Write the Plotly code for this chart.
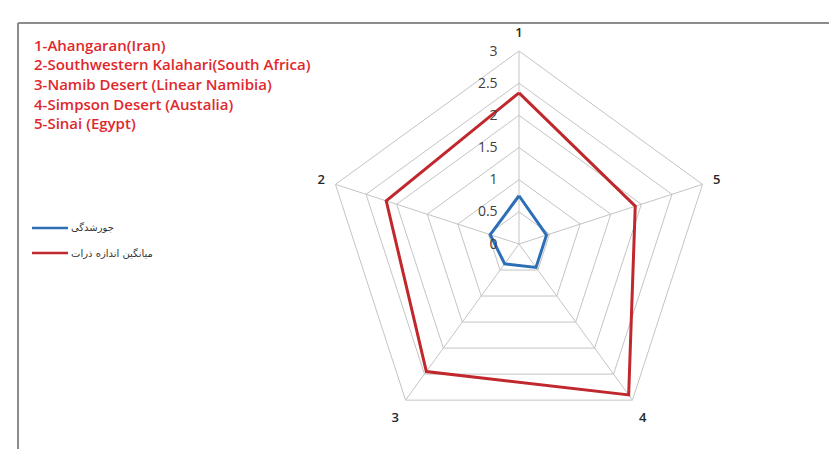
import plotly.graph_objects as go

# ---- data ----
categories = ["1", "2", "3", "4", "5"]
sorting_values = [0.75, 0.47, 0.38, 0.45, 0.45]        # جورشدگی (blue)
grain_size_values = [2.35, 2.17, 2.45, 2.9, 1.9]         # میانگین اندازه ذرات (red)
series_names = ["جورشدگی", "میانگین اندازه ذرات"]
radial_ticks = [0, 0.5, 1, 1.5, 2, 2.5, 3]
site_labels = [
    "1-Ahangaran(Iran)",
    "2-Southwestern Kalahari(South Africa)",
    "3-Namib Desert (Linear Namibia)",
    "4-Simpson Desert (Austalia)",
    "5-Sinai (Egypt)",
]

BLUE = "#2c6fb7"
RED = "#c0282e"
W, H = 837, 449

fig = go.Figure()
fig.add_trace(go.Scatterpolar(
    r=sorting_values + sorting_values[:1],
    theta=categories + categories[:1],
    mode="lines", line=dict(color=BLUE, width=3),
    name=series_names[0], showlegend=False,
))
fig.add_trace(go.Scatterpolar(
    r=grain_size_values + grain_size_values[:1],
    theta=categories + categories[:1],
    mode="lines", line=dict(color=RED, width=3),
    name=series_names[1], showlegend=False,
))

# polar placement (pixel based)
cx, cy, R = 511, 236, 193
fig.update_layout(
    width=W, height=H,
    margin=dict(l=0, r=0, t=0, b=0),
    paper_bgcolor="white", plot_bgcolor="white",
    polar=dict(
        domain=dict(x=[(cx - R) / W, (cx + R) / W],
                    y=[(H - (cy + R)) / H, (H - (cy - R)) / H]),
        gridshape="linear",
        bgcolor="white",
        radialaxis=dict(
            range=[0, 3], tickvals=radial_ticks,
            ticktext=[f"{t:g}" for t in radial_ticks],
            angle=90, tickangle=90, side="counterclockwise",
            showline=False, gridcolor="#c4c4c4", gridwidth=1,
            ticks="outside", ticklen=16, tickcolor="rgba(0,0,0,0)",
            tickfont=dict(family="Open Sans", size=14, color="#404040"),
        ),
        angularaxis=dict(
            rotation=90, direction="counterclockwise",
            gridcolor="#c4c4c4", gridwidth=1,
            linecolor="#c4c4c4", linewidth=1, showline=True,
            ticks="outside", ticklen=8, tickcolor="rgba(0,0,0,0)",
            tickfont=dict(family="Open Sans", size=13, color="#262626", weight=600),
        ),
    ),
)

# site list (top-left, red text)
for i, txt in enumerate(site_labels):
    fig.add_annotation(
        x=24 / W, y=(H - (37 + i * 19.5)) / H, xref="paper", yref="paper",
        text=txt, showarrow=False, xanchor="left", yanchor="middle",
        font=dict(family="Open Sans", size=15, color="#e0282c", weight=600),
    )

# series key (line sample + Persian text)
for i, (name, col) in enumerate(zip(series_names, [BLUE, RED])):
    yy = (H - (220 + i * 25)) / H
    fig.add_shape(type="line", xref="paper", yref="paper",
                  x0=24 / W, x1=60 / W, y0=yy, y1=yy,
                  line=dict(color=col, width=2.5))
    fig.add_annotation(
        x=61 / W, y=yy, xref="paper", yref="paper",
        text=name, showarrow=False, xanchor="left", yanchor="middle",
        font=dict(family="DejaVu Sans", size=10, color="#333333"),
    )

# chart frame (top and left edges)
fig.add_shape(type="line", xref="paper", yref="paper",
              x0=10 / W, x1=1, y0=(H - 15) / H, y1=(H - 15) / H,
              line=dict(color="#8c8c8c", width=2))
fig.add_shape(type="line", xref="paper", yref="paper",
              x0=10 / W, x1=10 / W, y0=0, y1=(H - 15) / H,
              line=dict(color="#8c8c8c", width=2))

fig.write_html("out.html")
